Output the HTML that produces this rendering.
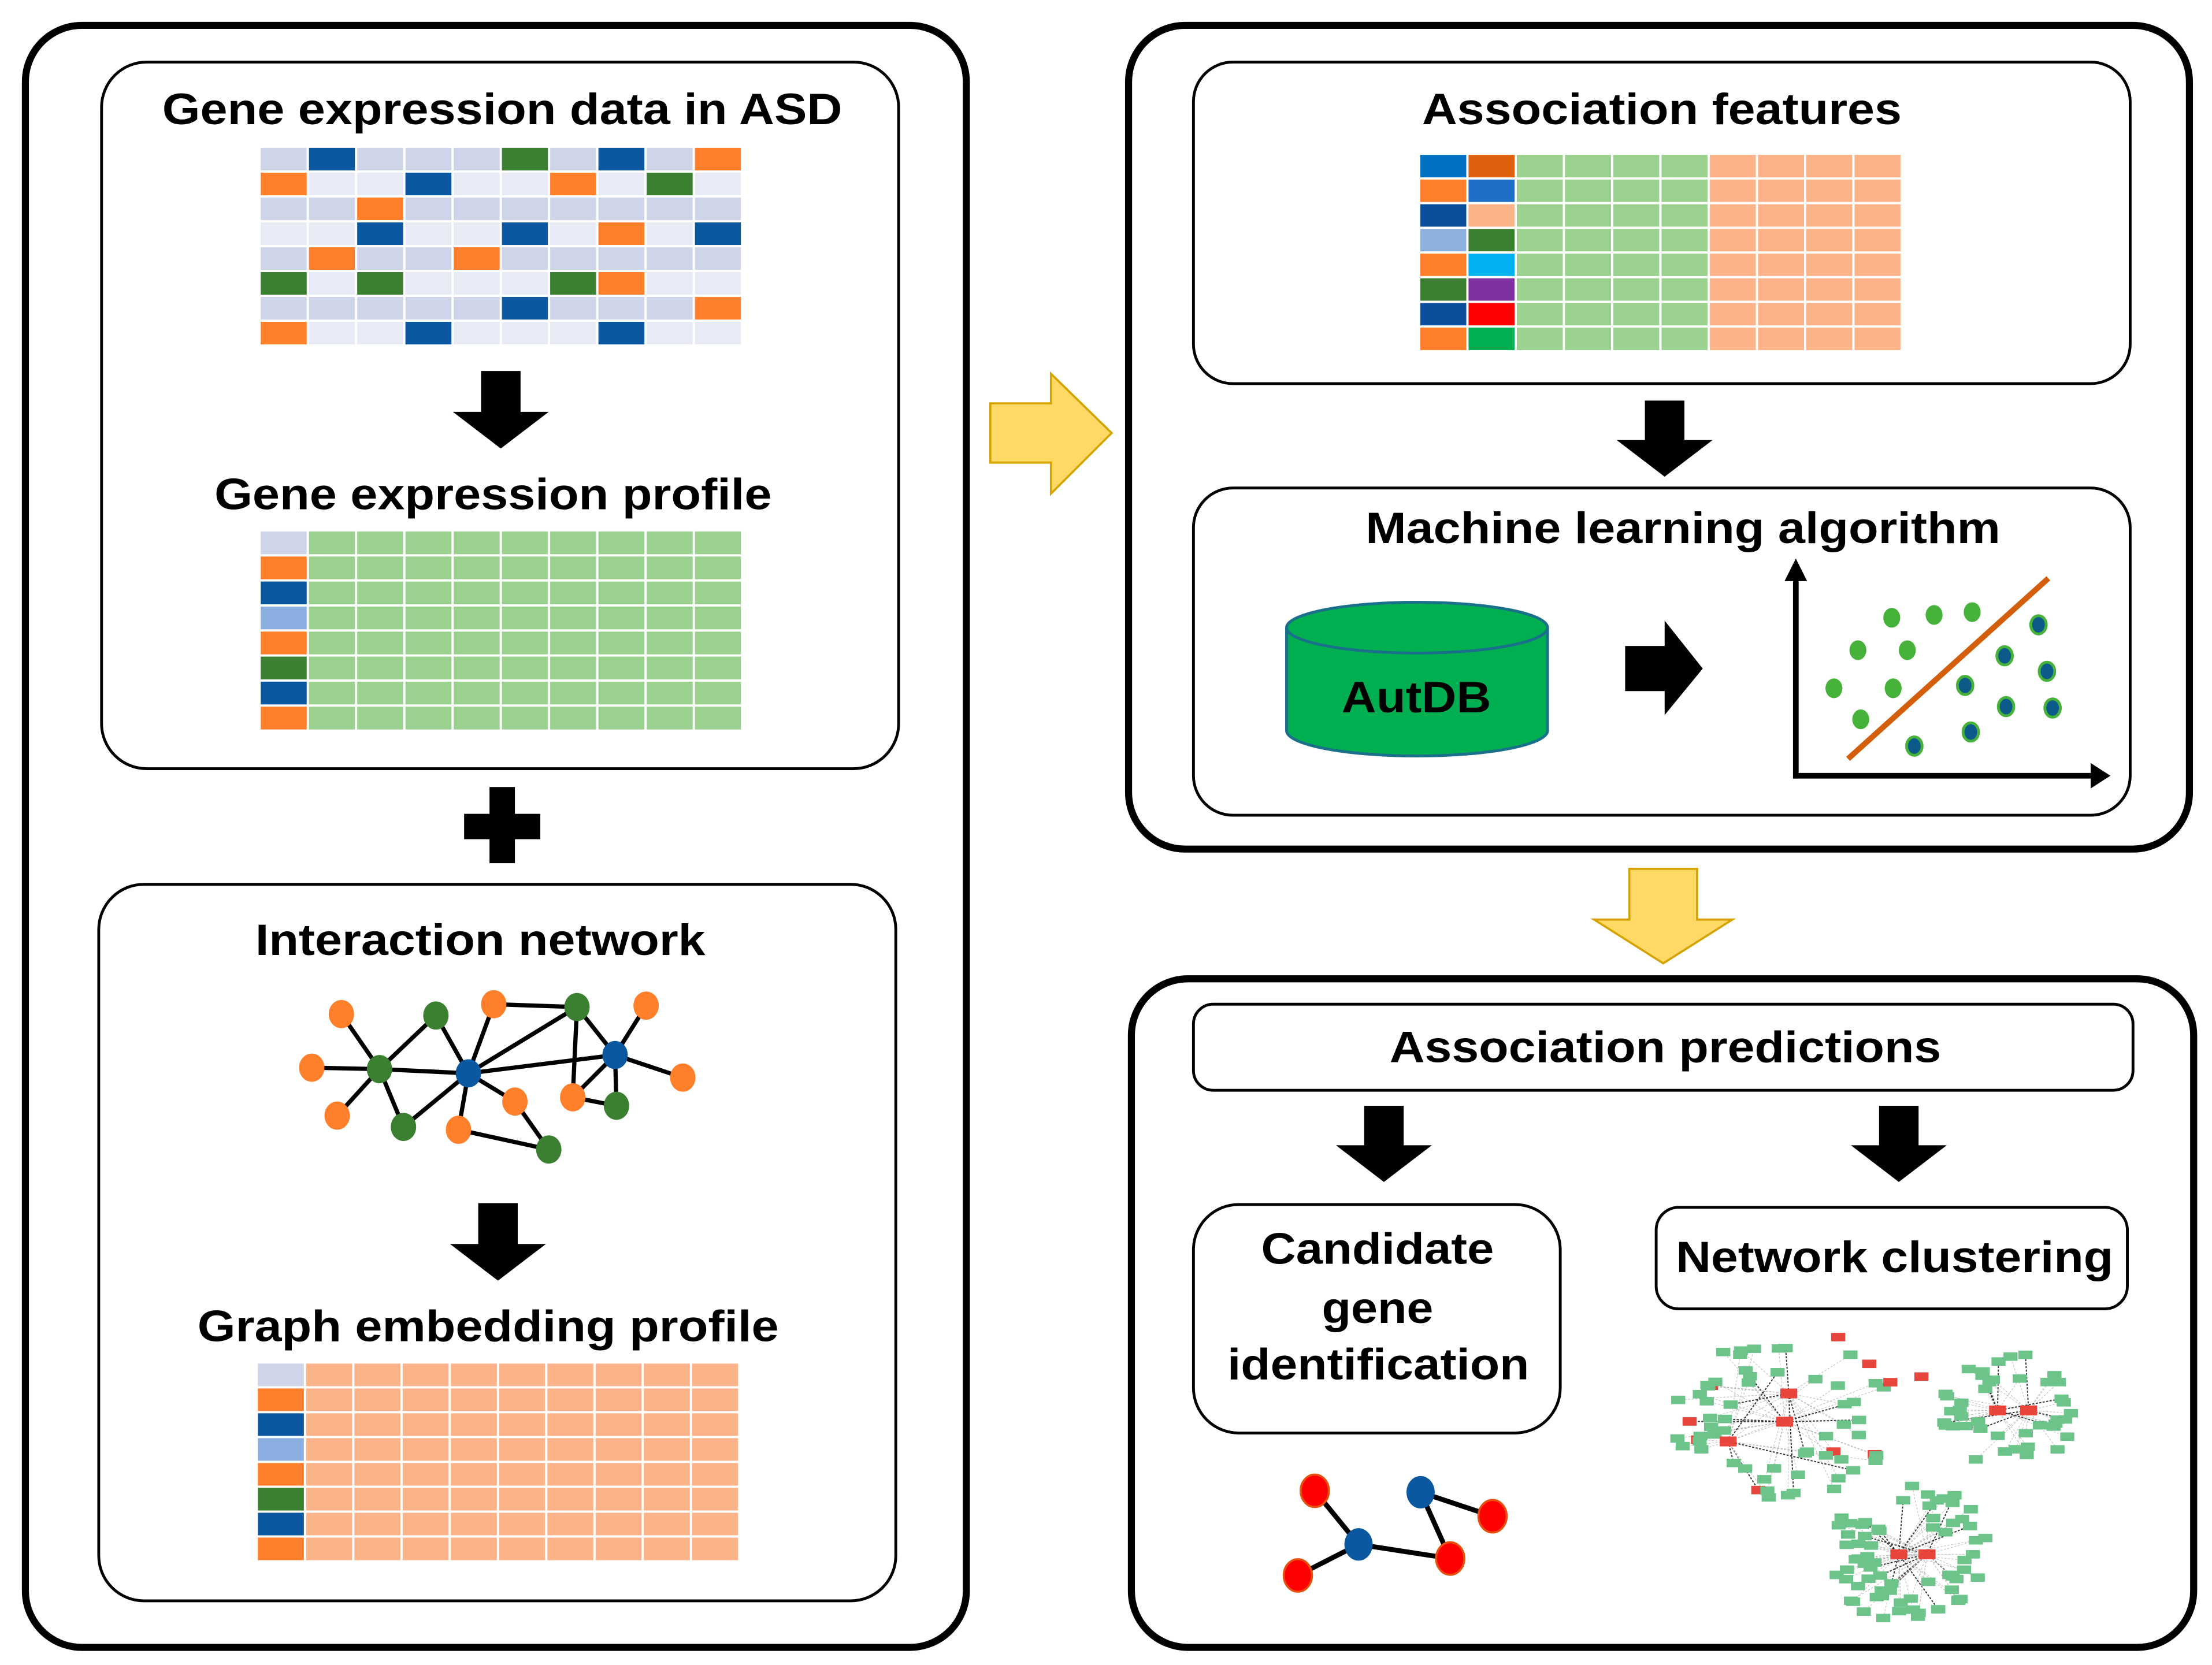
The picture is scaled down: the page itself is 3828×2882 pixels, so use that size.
<!DOCTYPE html>
<html><head><meta charset="utf-8">
<style>
html,body{margin:0;padding:0;background:#fff;}
svg{display:block;}
text{font-family:"Liberation Sans",Arial,sans-serif;font-weight:bold;fill:#000;}
</style></head>
<body>
<svg id="s" width="3828" height="2882" viewBox="0 0 1568 1180.5" xmlns="http://www.w3.org/2000/svg">
<rect width="1568" height="1181" fill="#fff"/>
<rect x="18" y="18" width="667" height="1150" rx="40" fill="none" stroke="#000" stroke-width="5"/>
<rect x="800" y="18" width="752" height="584" rx="40" fill="none" stroke="#000" stroke-width="5"/>
<rect x="802" y="694" width="753" height="474" rx="40" fill="none" stroke="#000" stroke-width="5"/>
<rect x="72" y="44" width="565" height="501" rx="32" fill="none" stroke="#000" stroke-width="2"/>
<rect x="70" y="627" width="565" height="508" rx="32" fill="none" stroke="#000" stroke-width="2"/>
<rect x="846" y="44" width="664" height="228" rx="28" fill="none" stroke="#000" stroke-width="2"/>
<rect x="846" y="346" width="664" height="232" rx="28" fill="none" stroke="#000" stroke-width="2"/>
<rect x="846" y="712" width="666" height="61" rx="14" fill="none" stroke="#000" stroke-width="2"/>
<rect x="846" y="854" width="260" height="162" rx="32" fill="none" stroke="#000" stroke-width="2"/>
<rect x="1174" y="856" width="334" height="72" rx="16" fill="none" stroke="#000" stroke-width="2"/>

<text x="115" y="88" font-size="31" textLength="482" lengthAdjust="spacingAndGlyphs">Gene expression data in ASD</text>
<text x="152" y="361" font-size="31" textLength="395" lengthAdjust="spacingAndGlyphs">Gene expression profile</text>
<text x="181" y="677" font-size="31" textLength="319" lengthAdjust="spacingAndGlyphs">Interaction network</text>
<text x="140" y="951" font-size="31" textLength="412" lengthAdjust="spacingAndGlyphs">Graph embedding profile</text>
<text x="1008" y="88" font-size="31" textLength="340" lengthAdjust="spacingAndGlyphs">Association features</text>
<text x="968" y="385" font-size="31" textLength="450" lengthAdjust="spacingAndGlyphs">Machine learning algorithm</text>
<text x="985" y="753" font-size="31" textLength="391" lengthAdjust="spacingAndGlyphs">Association predictions</text>
<text x="1188" y="902" font-size="31" textLength="310" lengthAdjust="spacingAndGlyphs">Network clustering</text>
<text x="894" y="896" font-size="31" textLength="165" lengthAdjust="spacingAndGlyphs">Candidate</text>
<text x="937" y="938" font-size="31" textLength="79" lengthAdjust="spacingAndGlyphs">gene</text>
<text x="870" y="978" font-size="31" textLength="214" lengthAdjust="spacingAndGlyphs">identification</text>

<g id="grids"></g>

<g fill="#000">
<polygon points="341,263 369,263 369,292 389,292 355,318 321,292 341,292"/>
<polygon points="339,853 367,853 367,882 387,882 353,908 319,882 339,882"/>
<polygon points="1166,284 1194,284 1194,312 1214,312 1180,338 1146,312 1166,312"/>
<polygon points="967,784 995,784 995,812 1015,812 981,838 947,812 967,812"/>
<polygon points="1332,784 1360,784 1360,812 1380,812 1346,838 1312,812 1332,812"/>
<polygon points="1152,458 1180,458 1180,440 1207,474 1180,507 1180,490 1152,490"/>
<rect x="347" y="558" width="18" height="54"/>
<rect x="329" y="577" width="54" height="18"/>
</g>

<polygon points="702,286 745,286 745,265 788,307 745,350 745,328 702,328" fill="#ffd966" stroke="#d4a300" stroke-width="1.5"/>
<polygon points="1155,616 1203,616 1203,652 1228,652 1179,683 1130,652 1155,652" fill="#ffd966" stroke="#d4a300" stroke-width="1.5"/>

<g stroke="#000" stroke-width="3">
<line x1="242" y1="719" x2="269" y2="758"/><line x1="309" y1="720" x2="269" y2="758"/>
<line x1="221" y1="757" x2="269" y2="758"/><line x1="239" y1="791" x2="269" y2="758"/>
<line x1="286" y1="799" x2="269" y2="758"/><line x1="269" y1="758" x2="332" y2="761"/>
<line x1="309" y1="720" x2="332" y2="761"/><line x1="350" y1="712" x2="332" y2="761"/>
<line x1="350" y1="712" x2="409" y2="714"/><line x1="332" y1="761" x2="409" y2="714"/>
<line x1="332" y1="761" x2="436" y2="748"/><line x1="332" y1="761" x2="365" y2="781"/>
<line x1="332" y1="761" x2="325" y2="801"/><line x1="332" y1="761" x2="286" y2="799"/>
<line x1="325" y1="801" x2="389" y2="815"/><line x1="365" y1="781" x2="389" y2="815"/>
<line x1="409" y1="714" x2="436" y2="748"/><line x1="458" y1="713" x2="436" y2="748"/>
<line x1="436" y1="748" x2="484" y2="764"/><line x1="436" y1="748" x2="406" y2="778"/>
<line x1="436" y1="748" x2="437" y2="784"/><line x1="409" y1="714" x2="406" y2="778"/>
<line x1="406" y1="778" x2="437" y2="784"/>
</g>
<g>
<g fill="#ff7f2a">
<ellipse cx="242" cy="719" rx="9" ry="10"/><ellipse cx="350" cy="712" rx="9" ry="10"/><ellipse cx="458" cy="713" rx="9" ry="10"/>
<ellipse cx="221" cy="757" rx="9" ry="10"/><ellipse cx="239" cy="791" rx="9" ry="10"/><ellipse cx="365" cy="781" rx="9" ry="10"/>
<ellipse cx="406" cy="778" rx="9" ry="10"/><ellipse cx="484" cy="764" rx="9" ry="10"/><ellipse cx="325" cy="801" rx="9" ry="10"/>
</g>
<g fill="#3a8030">
<ellipse cx="309" cy="720" rx="9" ry="10"/><ellipse cx="409" cy="714" rx="9" ry="10"/><ellipse cx="269" cy="758" rx="9" ry="10"/>
<ellipse cx="286" cy="799" rx="9" ry="10"/><ellipse cx="437" cy="784" rx="9" ry="10"/><ellipse cx="389" cy="815" rx="9" ry="10"/>
</g>
<g fill="#0b57a0">
<ellipse cx="332" cy="761" rx="9" ry="10"/><ellipse cx="436" cy="748" rx="9" ry="10"/>
</g>
</g>

<path d="M912,445 L912,518 A92.5,18 0 0 0 1097,518 L1097,445" fill="#00b050" stroke="#1a6f8a" stroke-width="2"/>
<ellipse cx="1004.5" cy="445" rx="92.5" ry="18" fill="#00b050" stroke="#1a6f8a" stroke-width="2"/>
<text x="951" y="505" font-size="31" textLength="106" lengthAdjust="spacingAndGlyphs">AutDB</text>

<line x1="1310" y1="538" x2="1452" y2="410" stroke="#d35f0c" stroke-width="4"/>
<g fill="none" stroke="#000" stroke-width="4">
<line x1="1273" y1="552" x2="1273" y2="408"/>
<line x1="1271" y1="550" x2="1484" y2="550"/>
</g>
<polygon points="1265,412 1273,396 1281,412" fill="#000"/>
<polygon points="1482,541 1496,550 1482,559" fill="#000"/>
<g fill="#46b23a">
<ellipse cx="1341" cy="438" rx="6" ry="7"/><ellipse cx="1371" cy="436" rx="6" ry="7"/><ellipse cx="1398" cy="434" rx="6" ry="7"/>
<ellipse cx="1317" cy="461" rx="6" ry="7"/><ellipse cx="1352" cy="461" rx="6" ry="7"/><ellipse cx="1300" cy="488" rx="6" ry="7"/>
<ellipse cx="1342" cy="488" rx="6" ry="7"/><ellipse cx="1319" cy="510" rx="6" ry="7"/>
</g>
<g fill="#0b5a8a" stroke="#46b23a" stroke-width="2">
<ellipse cx="1445" cy="443" rx="5.5" ry="6.5"/><ellipse cx="1421" cy="465" rx="5.5" ry="6.5"/><ellipse cx="1451" cy="476" rx="5.5" ry="6.5"/>
<ellipse cx="1393" cy="486" rx="5.5" ry="6.5"/><ellipse cx="1422" cy="501" rx="5.5" ry="6.5"/><ellipse cx="1455" cy="502" rx="5.5" ry="6.5"/>
<ellipse cx="1397" cy="519" rx="5.5" ry="6.5"/><ellipse cx="1357" cy="529" rx="5.5" ry="6.5"/>
</g>

<g stroke="#000" stroke-width="3.5">
<line x1="932" y1="1057" x2="963" y2="1095"/><line x1="963" y1="1095" x2="920" y2="1117"/>
<line x1="963" y1="1095" x2="1028" y2="1105"/><line x1="1028" y1="1105" x2="1007" y2="1058"/>
<line x1="1007" y1="1058" x2="1058" y2="1075"/>
</g>
<g fill="#ff0000" stroke="#e85010" stroke-width="1.5">
<ellipse cx="932" cy="1057" rx="10" ry="11.5"/><ellipse cx="1058" cy="1075" rx="10" ry="11.5"/>
<ellipse cx="1028" cy="1105" rx="10" ry="11.5"/><ellipse cx="920" cy="1117" rx="10" ry="11.5"/>
</g>
<g fill="#0b57a0">
<ellipse cx="1007" cy="1058" rx="10" ry="11.5"/><ellipse cx="963" cy="1095" rx="10" ry="11.5"/>
</g>

<g id="clusters"></g>
</svg>
<script>
(function(){
var NS="http://www.w3.org/2000/svg";
function el(p,t,a){var e=document.createElementNS(NS,t);for(var k in a)e.setAttribute(k,a[k]);p.appendChild(e);return e;}
var g=document.getElementById('grids');
var C={L:'#cfd5e8',W:'#e8eaf5',B:'#0b57a0',G:'#3a8030',O:'#ff7f2a',A:'#8aaee0',g:'#9bd18f',p:'#fdb38a'};
function grid(x,y,w,h,rows){
  var cw=w/10,ch=h/8;
  for(var r=0;r<8;r++)for(var c=0;c<10;c++){
    var col=rows[r][c]; col=C[col]||col;
    el(g,'rect',{x:x+c*cw+0.8,y:y+r*ch+0.8,width:cw-1.6,height:ch-1.6,fill:col});
  }
}
grid(184,104,342,141,["LBLLLGLBLO","OWWBWWOWGW","LLOLLLLLLL","WWBWWBWOWB","LOLLOLLLLL","GWGWWWGOWW","LLLLLBLLLO","OWWBWWWBWW"]);
var c1=['L','O','B','A','O','G','B','O'];
var r2=[],r3=[];
for(var i=0;i<8;i++){r2.push([c1[i],'g','g','g','g','g','g','g','g','g']);r3.push([c1[i],'p','p','p','p','p','p','p','p','p']);}
grid(184,376,342,142,r2);
grid(182,966,342,141,r3);
var c0=['#0070c0','#ff7f2a','#0b4f9a','#8eb0dc','#ff7f2a','#3a8030','#0b4f9a','#ff7f2a'];
var cb=['#e06010','#1f6fc8','#fdb38a','#3a8030','#00b0f0','#7f30a0','#ff0000','#00b050'];
var r4=[];
for(var i=0;i<8;i++){r4.push([c0[i],cb[i],'g','g','g','g','p','p','p','p']);}
grid(1006,109,342,140,r4);
var cg=document.getElementById('clusters');
var seed=7;function rnd(){seed=(seed*9301+49297)%233280;return seed/233280;}
function cluster(cx,cy,rx,ry,n,reds,centers){
  var pts=[];
  for(var i=0;i<n;i++){
    var a=rnd()*Math.PI*2, d=Math.sqrt(0.2+0.8*rnd());
    pts.push([cx+Math.cos(a)*rx*d,cy+Math.sin(a)*ry*d]);
  }
  pts.forEach(function(p,i){
    var c=centers[i%centers.length];
    el(cg,'line',{x1:c[0],y1:c[1],x2:p[0],y2:p[1],stroke:i%5==0?'#333':'#bbb','stroke-width':i%5==0?0.8:0.4,'stroke-dasharray':'1.5,1'});
  });
  pts.forEach(function(p,i){
    el(cg,'rect',{x:p[0]-5,y:p[1]-3,width:10,height:6,fill:i<reds?'#e8463c':'#6cc48a'});
  });
  centers.forEach(function(c){el(cg,'rect',{x:c[0]-6,y:c[1]-3.5,width:12,height:7,fill:'#e8463c'});});
}
cluster(1262,1005,80,58,62,6,[[1265,1008],[1268,988],[1225,1022]]);
cluster(1425,1000,48,42,42,0,[[1416,1000],[1438,1000]]);
cluster(1354,1102,58,50,70,0,[[1346,1102],[1366,1102]]);
el(cg,'rect',{x:1298,y:945,width:10,height:6,fill:'#e8463c'});
el(cg,'rect',{x:1320,y:964,width:10,height:6,fill:'#e8463c'});
el(cg,'rect',{x:1335,y:977,width:10,height:6,fill:'#e8463c'});
el(cg,'rect',{x:1357,y:973,width:10,height:6,fill:'#e8463c'});
})();
</script>
</body></html>
